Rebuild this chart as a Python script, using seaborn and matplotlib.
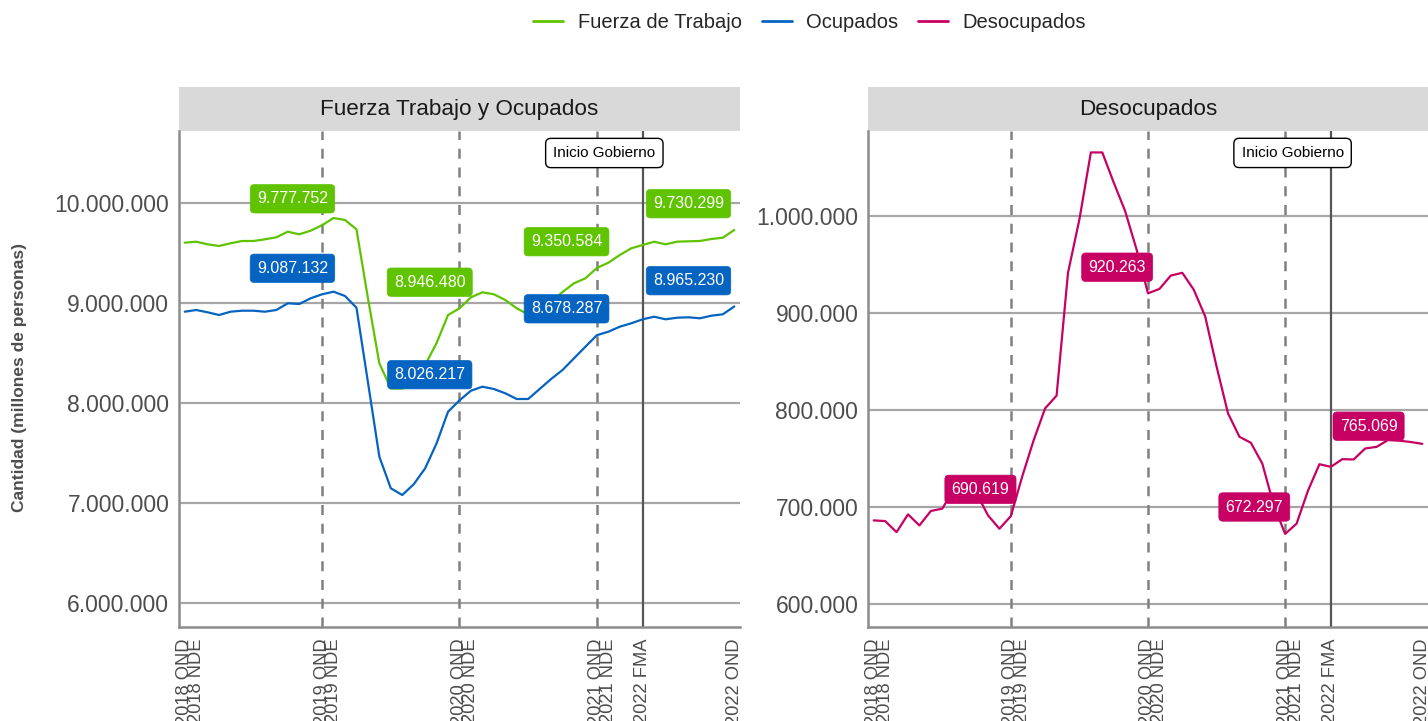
import numpy as np
import pandas as pd
import matplotlib
matplotlib.use("Agg")
import matplotlib.pyplot as plt
import seaborn as sns
from matplotlib.patches import Rectangle
from matplotlib.ticker import FuncFormatter
from matplotlib.lines import Line2D

# Trimestres móviles desde 2018 OND hasta 2022 OND (49 periodos)
fuerza_trabajo = [
    9.603, 9.613, 9.587, 9.570, 9.597, 9.620, 9.620, 9.637, 9.657, 9.713,
    9.687, 9.723, 9.777752, 9.850, 9.830, 9.737, 9.050, 8.397, 8.145, 8.145,
    8.252, 8.380, 8.600, 8.880, 8.946480, 9.057, 9.107, 9.087, 9.030, 8.947,
    8.885, 8.937, 9.012, 9.110, 9.197, 9.247, 9.350584, 9.403, 9.480, 9.547,
    9.580, 9.613, 9.587, 9.613, 9.617, 9.620, 9.640, 9.653, 9.730299,
]
ocupados = [
    8.913, 8.930, 8.907, 8.880, 8.913, 8.923, 8.923, 8.913, 8.930, 8.997,
    8.990, 9.047, 9.087132, 9.113, 9.070, 8.953, 8.210, 7.463, 7.147, 7.080,
    7.187, 7.347, 7.597, 7.913, 8.026217, 8.123, 8.163, 8.140, 8.097, 8.040,
    8.040, 8.140, 8.240, 8.330, 8.447, 8.563, 8.678287, 8.713, 8.763, 8.797,
    8.837, 8.863, 8.837, 8.853, 8.857, 8.847, 8.873, 8.887, 8.965230,
]
desocupados = [
    686.2, 685.5, 674.1, 692.4, 681.0, 695.9, 698.3, 718.0, 722.0, 714.0,
    691.4, 677.6, 690.619, 731.7, 769.0, 801.7, 814.8, 941.4, 996.6, 1065.5,
    1065.5, 1034.5, 1005.0, 965.5, 920.263, 924.8, 938.6, 941.4, 924.1, 896.6,
    844.8, 796.6, 772.4, 766.2, 744.8, 702.0, 672.297, 682.8, 716.9, 744.1,
    741.4, 749.3, 749.0, 760.3, 762.0, 769.0, 768.3, 767.0, 765.069,
]

abrev = ["EFM", "FMA", "MAM", "AMJ", "MJJ", "JJA", "JAS", "ASO", "SON", "OND", "NDE", "DEF"]
periodos = [f"{2018 + (9 + i) // 12} {abrev[(9 + i) % 12]}" for i in range(len(ocupados))]
ticks_idx = [0, 1, 12, 13, 24, 25, 36, 37, 40, 48]
lineas_ond = [12, 24, 36]
inicio_gobierno = 40
etiquetas_idx = [12, 24, 36, 48]

col = {"Fuerza de Trabajo": "#5FC300", "Ocupados": "#0563C1", "Desocupados": "#C70063"}

n = len(ocupados)
df_izq = pd.DataFrame({
    "t": list(range(n)) * 2,
    "valor": [v * 1e6 for v in fuerza_trabajo] + [v * 1e6 for v in ocupados],
    "serie": ["Fuerza de Trabajo"] * n + ["Ocupados"] * n,
})
df_der = pd.DataFrame({"t": range(n), "valor": [v * 1e3 for v in desocupados],
                       "serie": ["Desocupados"] * n})

sns.set_theme(style="white")
plt.rcParams["font.family"] = ["Liberation Sans", "DejaVu Sans"]

fig = plt.figure(figsize=(14.28, 7.21), dpi=100)
ax1 = fig.add_axes([179 / 1428, 1 - 627 / 721, 561 / 1428, 496 / 721])
ax2 = fig.add_axes([868 / 1428, 1 - 627 / 721, 560 / 1428, 496 / 721])

sns.lineplot(data=df_izq, x="t", y="valor", hue="serie", palette=col, lw=1.6, ax=ax1, legend=False)
sns.lineplot(data=df_der, x="t", y="valor", hue="serie", palette=col, lw=1.6, ax=ax2, legend=False)

miles = FuncFormatter(lambda v, p: f"{v:,.0f}".replace(",", "."))

def estilo(ax, titulo, ylim, yticks):
    ax.set_xlim(-0.5, 48.5)
    ax.set_ylim(*ylim)
    ax.set_yticks(yticks)
    ax.yaxis.set_major_formatter(miles)
    ax.set_xticks(ticks_idx)
    ax.set_xticklabels([periodos[i] for i in ticks_idx], rotation=90)
    ax.yaxis.grid(True, color="#A6A6A6", lw=1.6)
    ax.xaxis.grid(False)
    ax.set_axisbelow(True)
    for s in ["top", "right"]:
        ax.spines[s].set_visible(False)
    for s in ["left", "bottom"]:
        ax.spines[s].set_color("#8C8C8C")
        ax.spines[s].set_linewidth(1.8)
    ax.tick_params(axis="both", length=4, width=1.5, color="#333333", labelcolor="#4D4D4D")
    ax.tick_params(axis="y", labelsize=16.5, pad=3)
    ax.tick_params(axis="x", labelsize=13.2, pad=4)
    ax.set_xlabel("")
    ax.set_ylabel("")
    for i in lineas_ond:
        ax.axvline(i, color="#808080", lw=1.8, dashes=(4, 3.5), zorder=1.5)
    ax.axvline(inicio_gobierno, color="#555555", lw=1.6, zorder=1.5)
    ax.add_patch(Rectangle((0, 1), 1, 44 / 496, transform=ax.transAxes, clip_on=False,
                           fc="#D9D9D9", ec="none"))
    ax.text(0.5, 1 + 21 / 496, titulo, transform=ax.transAxes, ha="center", va="center",
            fontsize=16.2, color="#1A1A1A")

estilo(ax1, "Fuerza Trabajo y Ocupados", (5.76e6, 10.72e6), [6e6, 7e6, 8e6, 9e6, 10e6])
estilo(ax2, "Desocupados", (576.3e3, 1087.6e3), [600e3, 700e3, 800e3, 900e3, 1000e3])

def etiqueta(ax, x, y, valor, color):
    ax.text(x, y, f"{valor:,.0f}".replace(",", "."), ha="center", va="center", color="white",
            fontsize=11.5, zorder=5,
            bbox=dict(boxstyle="round,pad=0.42,rounding_size=0.25", fc=color, ec=color, lw=0.5))

pos_ft = [(9.41, 10.042e6), (21.4, 9.208e6), (33.35, 9.613e6), (44.0, 9.993e6)]
pos_oc = [(9.41, 9.347e6), (21.4, 8.283e6), (33.35, 8.942e6), (44.0, 9.223e6)]
pos_de = [(9.34, 718.2e3), (21.3, 947.2e3), (33.3, 700e3), (43.3, 783.3e3)]
for k, i in enumerate(etiquetas_idx):
    etiqueta(ax1, *pos_ft[k], round(fuerza_trabajo[i] * 1e6), col["Fuerza de Trabajo"])
    etiqueta(ax1, *pos_oc[k], round(ocupados[i] * 1e6), col["Ocupados"])
    etiqueta(ax2, *pos_de[k], round(desocupados[i] * 1e3), col["Desocupados"])

for ax, y in [(ax1, 10.5e6), (ax2, 1065e3)]:
    ax.text(36.65, y, "Inicio Gobierno", ha="center", va="center", fontsize=11, color="black",
            zorder=6, bbox=dict(boxstyle="round,pad=0.5,rounding_size=0.35", fc="white",
                                ec="black", lw=1))

fig.text(20 / 1428, 1 - 378 / 721, "Cantidad (millones de personas)", rotation=90,
         ha="center", va="center", fontsize=12.5, fontweight="bold", color="#4D4D4D")

handles = [Line2D([], [], color=col[s], lw=2) for s in col]
fig.legend(handles, list(col), loc="center", bbox_to_anchor=(0.567, 1 - 23 / 721), ncol=3,
           frameon=False, fontsize=14.5, handlelength=1.5, handletextpad=0.7, columnspacing=1.0)

fig.savefig("out.png", dpi=100)
